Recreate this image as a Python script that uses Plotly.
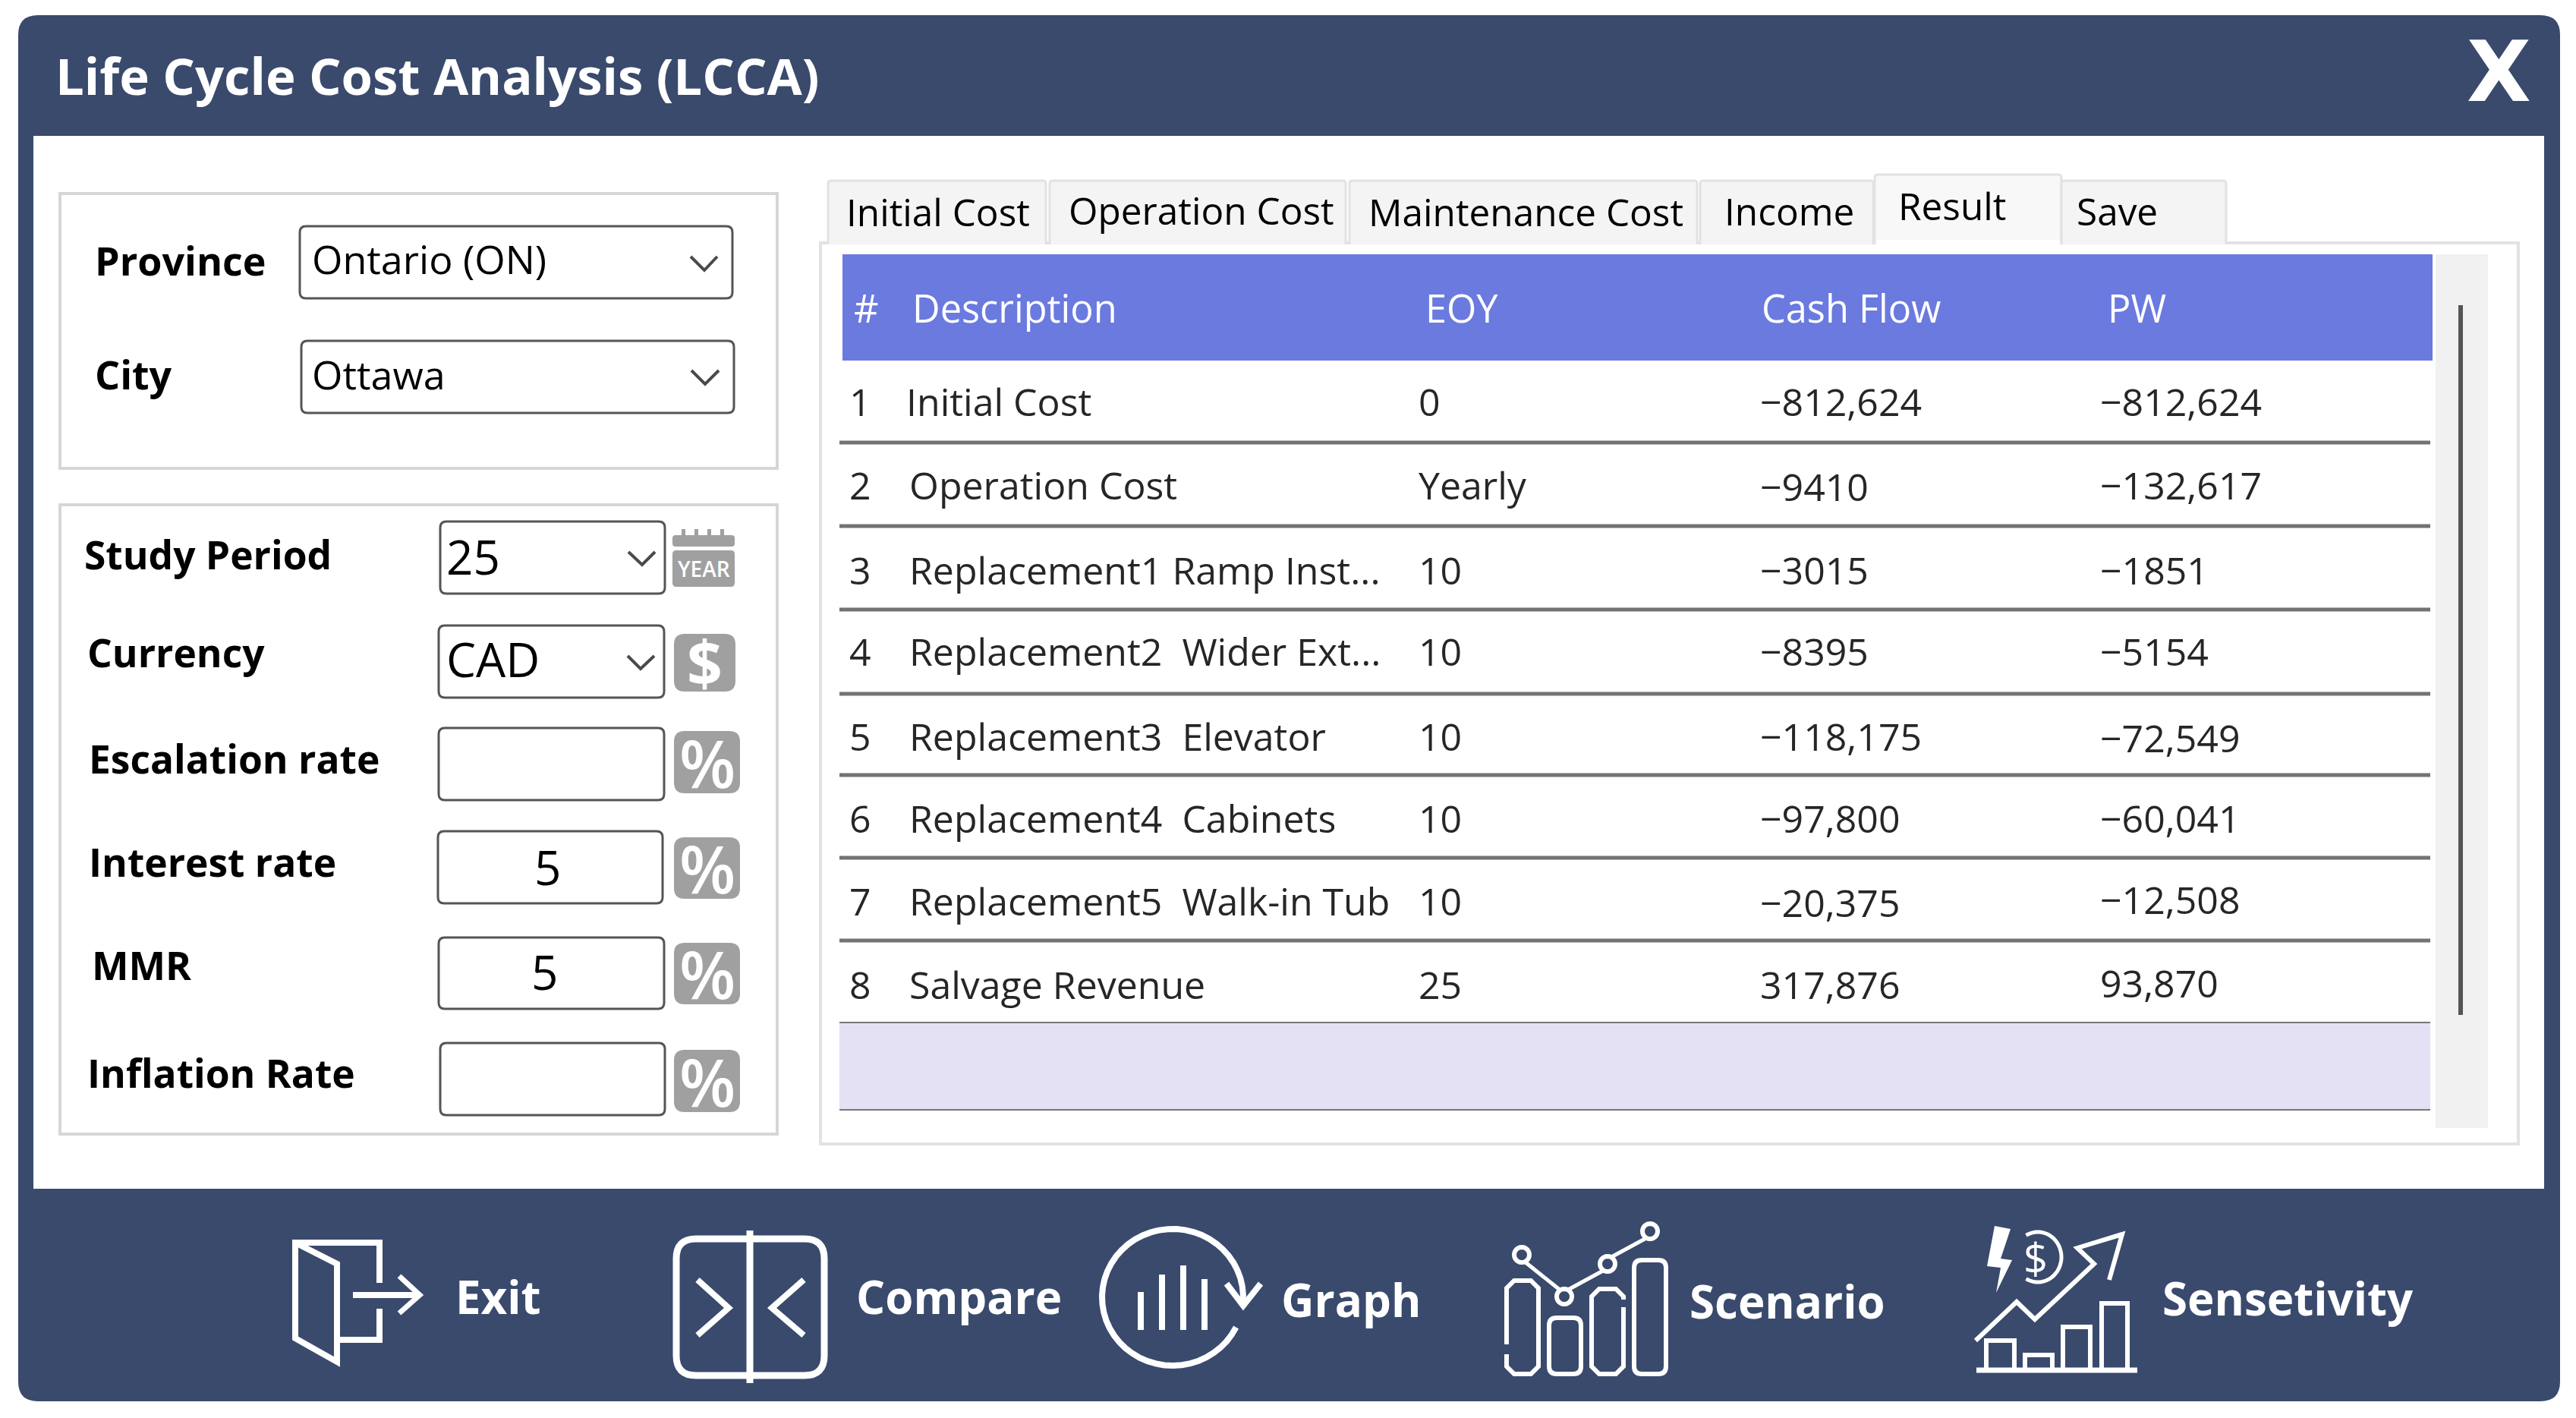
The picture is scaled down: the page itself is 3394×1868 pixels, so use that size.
'''
plot.py

Life Cycle Cost Analysis result window drawn on a pixel sized plotly canvas
'''

import math
import plotly.graph_objects as go

# Chart data
title = "Life Cycle Cost Analysis (LCCA)"
tab_names = ["Initial Cost", "Operation Cost", "Maintenance Cost", "Income", "Result", "Save"]
table_headers = ["#", "Description", "EOY", "Cash Flow", "PW"]
row_numbers = ["1", "2", "3", "4", "5", "6", "7", "8"]
descriptions = ["Initial Cost", "Operation Cost", "Replacement1 Ramp Inst...", "Replacement2  Wider Ext...",
                "Replacement3  Elevator", "Replacement4  Cabinets", "Replacement5  Walk-in Tub", "Salvage Revenue"]
eoy = ["0", "Yearly", "10", "10", "10", "10", "10", "25"]
cash_flow = ["\u2212812,624", "\u22129410", "\u22123015", "\u22128395", "\u2212118,175", "\u221297,800", "\u221220,375", "317,876"]
present_worth = ["\u2212812,624", "\u2212132,617", "\u22121851", "\u22125154", "\u221272,549", "\u221260,041", "\u221212,508", "93,870"]
button_names = ["Exit", "Compare", "Graph", "Scenario", "Sensetivity"]
location_labels = ["Province", "City"]
location_values = ["Ontario (ON)", "Ottawa"]
input_labels = ["Study Period", "Currency", "Escalation rate", "Interest rate", "MMR", "Inflation Rate"]
input_values = ["25", "CAD", "", "5", "5", ""]

# Layout, in page pixels
W, H = 3394, 1868
NAVY = "#394a6d"
FONT = "Open Sans"
row_y = [535, 645, 757, 864, 976, 1084, 1193, 1303]
cash_y = [535, 647, 757, 864, 976, 1084, 1195, 1303]
pw_y = [535, 645, 757, 864, 978, 1084, 1191, 1301]
row_lines = [583, 693, 803, 914, 1021, 1130, 1239]
tab_boxes = [(1091, 1378), (1383, 1773), (1778, 2236), (2240, 2468), (2470, 2716), (2716, 2933)]
tab_text = [(1113, 279), (1406, 277), (1801, 279), (2270, 278), (2499, 271), (2734, 278)]
head_x = [1123, 1200, 1876, 2319, 2775]
col_x = [1119, 1198, 1869, 2319, 2767]
desc_nudge = [-4, 0, 0, 0, 0, 0, 0, 0]
input_boxes = [(580, 876, 687, 782), (578, 875, 824, 919), (578, 875, 959, 1054),
               (577, 873, 1095, 1190), (578, 875, 1235, 1329), (580, 876, 1374, 1469)]
input_label_pos = [(109, 730), (113, 859), (115, 999), (115, 1135), (119, 1271), (113, 1413)]
input_value_pos = [(586, 733), (586, 868), None, (721, 1142), (717, 1280), None]
percent_boxes = [(888, 975, 963, 1045), (888, 975, 1103, 1184), (888, 975, 1242, 1323), (888, 975, 1383, 1465)]

shapes = []
annotations = []


def rounded(x0, x1, y0, y1, r):
    return (f"M{x0+r},{y0} L{x1-r},{y0} Q{x1},{y0} {x1},{y0+r} L{x1},{y1-r} Q{x1},{y1} {x1-r},{y1} "
            f"L{x0+r},{y1} Q{x0},{y1} {x0},{y1-r} L{x0},{y0+r} Q{x0},{y0} {x0+r},{y0} Z")


def add_path(path, fill=None, line=None, width=0):
    shapes.append(dict(type="path", path=path, xref="x", yref="y", layer="below",
                       fillcolor=fill or "rgba(0,0,0,0)",
                       line=dict(color=line or "rgba(0,0,0,0)", width=width)))


def add_box(x0, x1, y0, y1, fill=None, line=None, width=0):
    shapes.append(dict(type="rect", x0=x0, x1=x1, y0=y0, y1=y1, xref="x", yref="y", layer="below",
                       fillcolor=fill or "rgba(0,0,0,0)",
                       line=dict(color=line or "rgba(0,0,0,0)", width=width)))


def add_poly(points, color="white", width=8, close=False):
    path = "M" + " L".join(f"{x},{y}" for x, y in points) + (" Z" if close else "")
    add_path(path, line=color, width=width)


def add_text(text, x, y, size, color="black", weight=400, anchor="left", family=FONT):
    annotations.append(dict(text=text, x=x, y=y, xref="x", yref="y", showarrow=False, xanchor=anchor,
                            yanchor="middle", font=dict(family=family, size=size, color=color, weight=weight)))


def arc_points(cx, cy, rx, ry, start, end, steps=48):
    # angles in degrees, clockwise on screen
    pts = []
    for i in range(steps + 1):
        a = math.radians(start + (end - start) * i / steps)
        pts.append((round(cx + rx * math.cos(a), 1), round(cy + ry * math.sin(a), 1)))
    return pts


def add_chevron(x0, xm, x1, y0, y1):
    add_poly([(x0, y0), (xm, y1), (x1, y0)], color="#4a4a4a", width=4)


# Window frame
add_path(rounded(24, 3373, 20, 1846, 26), fill=NAVY)
add_box(44, 3352, 179, 1566, fill="white")
add_text(title, 71, 99, 67, color="white", weight=700)
add_text("X", 3292, 95, 110, color="white", weight=700, anchor="center", family="DejaVu Sans")

# Province and city panel
add_box(79, 1024, 255, 617, fill="white", line="#d6d6d6", width=4)
add_text(location_labels[0], 123, 342, 52, weight=700)
add_text(location_labels[1], 123, 492, 52, weight=700)
add_path(rounded(395, 965, 298, 393, 8), fill="white", line="#555555", width=3)
add_path(rounded(397, 967, 449, 544, 8), fill="white", line="#555555", width=3)
add_text(location_values[0], 409, 340, 52)
add_text(location_values[1], 409, 492, 52)
add_chevron(910, 928, 945, 338, 356)
add_chevron(911, 929, 947, 488, 506)

# Study inputs panel
add_box(79, 1024, 665, 1494, fill="white", line="#d6d6d6", width=4)
for i, (lx, ly) in enumerate(input_label_pos):
    add_text(input_labels[i], lx, ly, 51.5, weight=700)
    x0, x1, y0, y1 = input_boxes[i]
    add_path(rounded(x0, x1, y0, y1, 8), fill="white", line="#555555", width=3)
    if input_value_pos[i]:
        vx, vy = input_value_pos[i]
        add_text(input_values[i], vx, vy, 62, anchor="left" if i < 2 else "center")
add_chevron(828, 846, 863, 727, 744)
add_chevron(827, 844, 862, 864, 881)

# Gray unit badges
add_path(rounded(886, 968, 705, 720, 4), fill="#a0a0a0")
for x in (898, 915, 932, 949):
    add_box(x, x + 5, 697, 712, fill="#a0a0a0")
add_path(rounded(886, 968, 725, 773, 5), fill="#a0a0a0")
add_text("YEAR", 927, 749, 28, color="white", weight=600, anchor="center")
add_path(rounded(888, 969, 835, 911, 14), fill="#a0a0a0")
add_text("$", 928, 872, 82, color="white", weight=700, anchor="center")
for x0, x1, y0, y1 in percent_boxes:
    add_path(rounded(x0, x1, y0, y1, 14), fill="#a0a0a0")
    add_text("%", (x0 + x1) / 2, (y0 + y1) / 2, 86, color="white", weight=600, anchor="center")

# Result panel and tabs
add_box(1081, 3318, 320, 1507, fill="white", line="#e2e2e2", width=4)
for i, name in enumerate(tab_names):
    x0, x1 = tab_boxes[i]
    top = 230 if name == "Result" else 238
    add_path(f"M{x0},322 L{x0},{top+4} Q{x0},{top} {x0+4},{top} L{x1-4},{top} Q{x1},{top} {x1},{top+4} L{x1},322",
             fill="#f8f8f8" if name == "Result" else "#f4f4f4", line="#e2e2e2", width=3)
    add_text(name, tab_text[i][0], tab_text[i][1], 49.5)
add_box(2472, 2714, 316, 326, fill="white")

# Scrollbar column
add_box(3209, 3278, 335, 1486, fill="#f1f1f1")
add_box(3239, 3245, 402, 1337, fill="#555555")

# Table header
add_box(1110, 3205, 335, 475, fill="#6b7adf")
for i, name in enumerate(table_headers):
    add_text(name, head_x[i], 405, 50.5, color="white")

# Table rows
for y in row_lines:
    add_box(1106, 3202, y - 2.5, y + 2.5, fill="#737373")
add_box(1106, 3202, 1347, 1462, fill="#e3e1f3")
add_box(1106, 3202, 1346, 1348, fill="#777777")
add_box(1106, 3202, 1461, 1463, fill="#777777")

fig = go.Figure()
columns = [(row_numbers, row_y), (descriptions, row_y), (eoy, row_y), (cash_flow, cash_y), (present_worth, pw_y)]
for c, (values, ys) in enumerate(columns):
    xs = [col_x[c] + (desc_nudge[r] if c == 1 else 0) for r in range(len(values))]
    fig.add_trace(go.Scatter(x=xs, y=ys, text=values, mode="text", textposition="middle right",
                             textfont=dict(family=FONT, size=50, color="#262626"), cliponaxis=False,
                             hoverinfo="skip", showlegend=False))

# Exit button
add_poly([(500, 1690), (500, 1637), (389, 1637), (389, 1763), (444, 1794), (444, 1665), (389, 1637)])
add_poly([(500, 1724), (500, 1765), (444, 1765)])
add_poly([(465, 1706), (551, 1706)])
add_poly([(526, 1681), (553, 1706), (526, 1730)], width=7)
add_text(button_names[0], 598, 1708, 60, color="white", weight=700)

# Compare button
add_path(rounded(891, 1086, 1632, 1812, 26), line="white", width=9)
add_poly([(988, 1621), (988, 1822)], width=9)
add_poly([(919, 1686), (960, 1723), (919, 1759)], width=8)
add_poly([(1059, 1686), (1017, 1723), (1059, 1759)], width=8)
add_text(button_names[1], 1126, 1708, 60, color="white", weight=700)

# Graph button
add_poly(arc_points(1545, 1709, 93, 90, 26, 360 + 5), width=8)
for x, top in zip((1503, 1531, 1559, 1587), (1702, 1679, 1667, 1685)):
    add_poly([(x, top), (x, 1752)], width=8)
add_poly([(1616, 1691), (1638, 1720), (1661, 1691)], width=8)
add_text(button_names[2], 1686, 1712, 60, color="white", weight=700)

# Scenario button
add_poly([(1985, 1771), (1985, 1697), (1995, 1687), (2017, 1687), (2027, 1697), (2027, 1800), (2017, 1810),
          (1995, 1810), (1985, 1800), (1985, 1784)], width=6)
add_path(rounded(2041, 2083, 1736, 1810, 10), line="white", width=6)
add_poly([(2139, 1722), (2139, 1800), (2129, 1810), (2107, 1810), (2097, 1800), (2097, 1708), (2107, 1698),
          (2129, 1698), (2139, 1708), (2139, 1712)], width=6)
add_path(rounded(2153, 2195, 1660, 1810, 10), line="white", width=6)
line_pts = [(2005, 1653), (2061, 1708), (2118, 1665), (2174, 1622)]
add_poly([(2010, 1663), (2055, 1699)], width=5)
add_poly([(2066, 1699), (2112, 1674)], width=5)
add_poly([(2123, 1656), (2169, 1631)], width=5)
for cx, cy in line_pts:
    add_poly(arc_points(cx, cy, 10, 10, 0, 360, 24), width=6, close=True)
add_text(button_names[3], 2224, 1714, 60, color="white", weight=700)

# Sensetivity button
add_poly([(2604, 1805), (2816, 1805)], width=7)
for x0, x1, top in [(2617, 2654, 1766), (2668, 2704, 1785), (2718, 2754, 1748), (2769, 2803, 1717)]:
    add_poly([(x0, 1805), (x0, top), (x1, top), (x1, 1805)], width=6)
add_poly([(2603, 1766), (2657, 1715), (2681, 1738), (2759, 1665), (2737, 1644), (2796, 1626), (2779, 1686)], width=6)
add_path("M2628,1615 L2649,1619 L2636,1658 L2651,1660 L2630,1703 L2636,1670 L2618,1668 Z", fill="white")
add_poly(arc_points(2685, 1656, 31, 33, -120, 120), width=5)
add_text("$", 2682, 1657, 56, color="white", weight=400, anchor="center")
add_text(button_names[4], 2847, 1710, 60, color="white", weight=700)

fig.update_layout(
    width=W, height=H, margin=dict(l=0, r=0, t=0, b=0), plot_bgcolor="white", paper_bgcolor="white",
    xaxis=dict(range=[0, W], visible=False, fixedrange=True),
    yaxis=dict(range=[H, 0], visible=False, fixedrange=True),
    shapes=shapes, annotations=annotations, showlegend=False,
)

fig.write_html("out.html", config={"displayModeBar": False}, post_script="document.body.style.margin='0';")
